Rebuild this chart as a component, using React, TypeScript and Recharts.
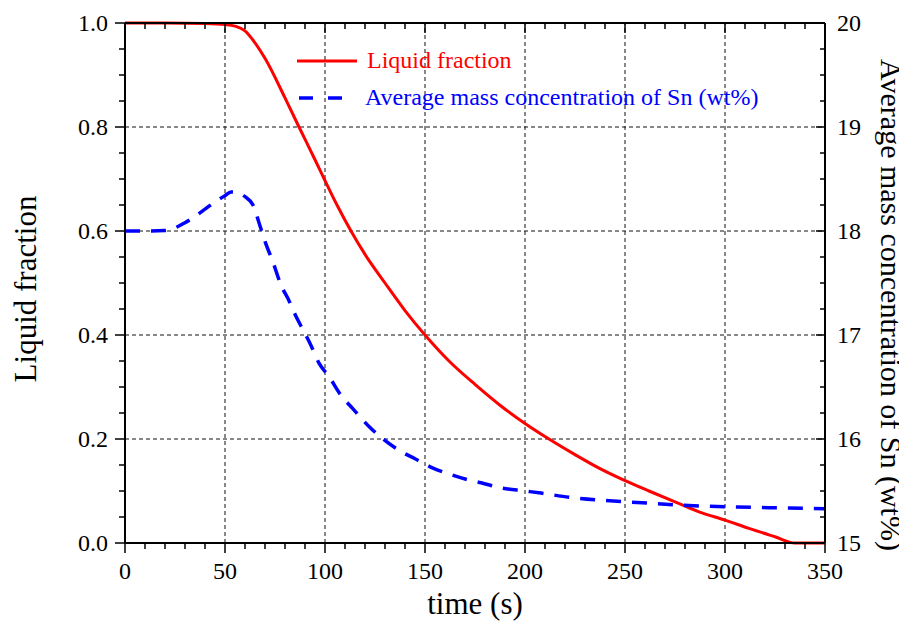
import { LineChart, Line, XAxis, YAxis, ReferenceLine, Legend } from "recharts";

// liquid fraction vs time
const lfTime = [0, 20, 40, 50, 55, 60, 65, 70, 80, 87, 95, 100, 106, 113, 120, 130, 140, 150, 162, 175, 187.5, 200, 212, 225, 237, 250, 262, 275, 287, 300, 312, 325, 335, 350];
const lfValue = [1.0, 1.0, 0.999, 0.997, 0.994, 0.985, 0.962, 0.932, 0.856, 0.8, 0.737, 0.697, 0.65, 0.6, 0.555, 0.5, 0.447, 0.4, 0.35, 0.305, 0.265, 0.23, 0.2, 0.17, 0.144, 0.12, 0.1, 0.079, 0.06, 0.044, 0.028, 0.012, 0.0, 0.0];

// average Sn concentration (wt%) vs time
const snTime = [0, 10, 20, 25, 30, 35, 40, 45, 50, 53, 56, 60, 64, 67, 70, 74, 78, 82, 85, 89, 93, 97, 102, 108, 114, 122, 129, 138, 145, 154, 161, 171, 178, 188, 200, 208, 222, 239, 256, 272, 289, 306, 322, 350];
const snValue = [18.0, 18.0, 18.005, 18.03, 18.08, 18.14, 18.21, 18.28, 18.34, 18.375, 18.37, 18.33, 18.25, 18.08, 17.9, 17.7, 17.48, 17.33, 17.2, 17.05, 16.9, 16.73, 16.6, 16.42, 16.29, 16.12, 16.0, 15.88, 15.81, 15.72, 15.67, 15.61, 15.58, 15.53, 15.5, 15.48, 15.44, 15.41, 15.39, 15.37, 15.355, 15.345, 15.34, 15.33];

const xGrid = [50, 100, 150, 200, 250, 300];
const yGrid = [0.2, 0.4, 0.6, 0.8];
const xMinor = Array.from({ length: 36 }, (_, i) => i * 10);
const yLeftMinor = Array.from({ length: 21 }, (_, i) => i * 0.05);
const yRightMinor = Array.from({ length: 21 }, (_, i) => 15 + i * 0.25);

const liquidData = lfTime.map((t, i) => ({ t, v: lfValue[i] }));
const snData = snTime.map((t, i) => ({ t, v: snValue[i] }));

const FONT = "'Liberation Serif', 'Times New Roman', serif";
const isMul = (v: number, step: number) => Math.abs(v / step - Math.round(v / step)) < 1e-6;

const BottomTick = ({ x, y, payload }: any) => {
  const major = isMul(payload.value, 50);
  return (
    <g>
      <line x1={x} x2={x} y1={y} y2={y + (major ? 10 : 6)} stroke="#000" strokeWidth={1.5} />
      {major && (
        <text x={x} y={y + 36} textAnchor="middle" fontSize={24} fontFamily={FONT} fill="#000">
          {payload.value}
        </text>
      )}
    </g>
  );
};

const TopTick = ({ x, y, payload }: any) => {
  const major = isMul(payload.value, 50);
  return <line x1={x} x2={x} y1={y} y2={y + (major ? 10 : 6)} stroke="#000" strokeWidth={1.5} />;
};

const LeftTick = ({ x, y, payload }: any) => {
  const major = isMul(payload.value, 0.2);
  return (
    <g>
      <line x1={x} x2={x - (major ? 10 : 6)} y1={y} y2={y} stroke="#000" strokeWidth={1.5} />
      {major && (
        <text x={x - 17} y={y + 8} textAnchor="end" fontSize={24} fontFamily={FONT} fill="#000">
          {payload.value.toFixed(1)}
        </text>
      )}
    </g>
  );
};

const RightTick = ({ x, y, payload }: any) => {
  const major = isMul(payload.value, 1);
  return (
    <g>
      <line x1={x} x2={x - (major ? 9 : 5)} y1={y} y2={y} stroke="#000" strokeWidth={1.5} />
      {major && (
        <text x={x + 12} y={y + 8} textAnchor="start" fontSize={24} fontFamily={FONT} fill="#000">
          {Math.round(payload.value)}
        </text>
      )}
    </g>
  );
};

const LegendBox = () => (
  <div style={{ fontFamily: FONT, fontSize: 24 }}>
    <div style={{ display: "flex", alignItems: "center", height: 37 }}>
      <svg width={60} height={10}>
        <line x1={0} x2={60} y1={5} y2={5} stroke="#ff0000" strokeWidth={3} />
      </svg>
      <span style={{ color: "#ff0000", marginLeft: 10 }}>Liquid fraction</span>
    </div>
    <div style={{ display: "flex", alignItems: "center", height: 37 }}>
      <svg width={60} height={10}>
        <line x1={2} x2={46} y1={5} y2={5} stroke="#0000ff" strokeWidth={3.5} strokeDasharray="14 15" />
      </svg>
      <span style={{ color: "#0000ff", marginLeft: 8 }}>Average mass concentration of Sn (wt%)</span>
    </div>
  </div>
);

const axisLine = { stroke: "#000", strokeWidth: 2 };
const gridLine = { stroke: "#111", strokeDasharray: "4 3", strokeWidth: 1 };

const App = () => {
  return (
    <div style={{ position: "relative", width: 891, height: 621, fontFamily: FONT }}>
      <LineChart width={891} height={621} margin={{ top: 10, right: 14, bottom: 46, left: 57 }}>
        <XAxis
          xAxisId="main"
          type="number"
          dataKey="t"
          domain={[0, 350]}
          ticks={xMinor}
          interval={0}
          height={40}
          tickSize={0}
          tickMargin={0}
          tickLine={false}
          axisLine={axisLine}
          tick={BottomTick}
        />
        <XAxis
          xAxisId="top"
          orientation="top"
          type="number"
          dataKey="t"
          domain={[0, 350]}
          ticks={xMinor}
          interval={0}
          height={5}
          tickSize={0}
          tickMargin={0}
          tickLine={false}
          axisLine={axisLine}
          tick={TopTick}
        />
        <YAxis
          yAxisId="left"
          type="number"
          domain={[0, 1]}
          ticks={yLeftMinor}
          interval={0}
          width={60}
          tickSize={0}
          tickMargin={0}
          tickLine={false}
          axisLine={axisLine}
          tick={LeftTick}
        />
        <YAxis
          yAxisId="right"
          orientation="right"
          type="number"
          domain={[15, 20]}
          ticks={yRightMinor}
          interval={0}
          width={60}
          tickSize={0}
          tickMargin={0}
          tickLine={false}
          axisLine={axisLine}
          tick={RightTick}
        />
        {xGrid.map((v) => (
          <ReferenceLine key={`gx${v}`} x={v} xAxisId="main" yAxisId="left" {...gridLine} />
        ))}
        {yGrid.map((v) => (
          <ReferenceLine key={`gy${v}`} y={v} xAxisId="main" yAxisId="left" {...gridLine} />
        ))}
        <Line
          xAxisId="top"
          yAxisId="left"
          data={liquidData}
          dataKey="v"
          type="monotone"
          stroke="#ff0000"
          strokeWidth={3}
          dot={false}
          isAnimationActive={false}
        />
        <Line
          xAxisId="main"
          yAxisId="right"
          data={snData}
          dataKey="v"
          type="monotone"
          stroke="#0000ff"
          strokeWidth={3.5}
          strokeDasharray="15 11"
          dot={false}
          isAnimationActive={false}
        />
        <Legend
          layout="vertical"
          align="center"
          verticalAlign="middle"
          wrapperStyle={{ position: "absolute", left: 289, top: 34, width: "auto", height: "auto" }}
          content={() => <LegendBox />}
        />
      </LineChart>
      <div
        style={{
          position: "absolute",
          left: 17,
          top: 281,
          transform: "translate(-50%, -50%) rotate(-90deg)",
          fontSize: 31,
          lineHeight: "31px",
          whiteSpace: "nowrap",
        }}
      >
        Liquid fraction
      </div>
      <div
        style={{
          position: "absolute",
          left: 883,
          top: 297,
          transform: "translate(-50%, -50%) rotate(90deg)",
          fontSize: 30,
          lineHeight: "30px",
          whiteSpace: "nowrap",
        }}
      >
        Average mass concentration of Sn (wt%)
      </div>
      <div
        style={{
          position: "absolute",
          left: 467,
          top: 596,
          transform: "translate(-50%, -50%)",
          fontSize: 31,
          whiteSpace: "nowrap",
        }}
      >
        time (s)
      </div>
    </div>
  );
};

export default App;
